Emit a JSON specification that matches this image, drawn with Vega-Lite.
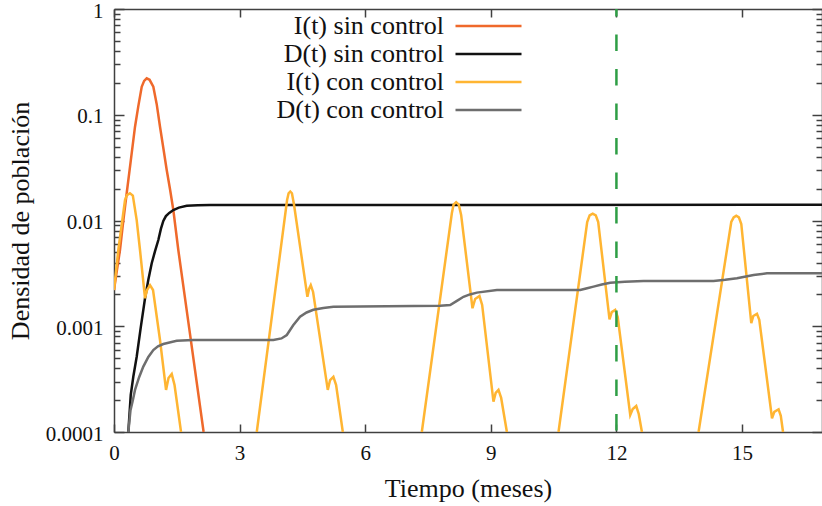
{
  "$schema": "https://vega.github.io/schema/vega-lite/v6.json",
  "width": 708,
  "height": 423,
  "autosize": {"type": "none"},
  "padding": {"left": 114, "top": 9, "right": 0, "bottom": 74},
  "background": "white",
  "config": {
    "view": {"stroke": null},
    "font": "Liberation Serif",
    "axis": {
      "grid": false,
      "domainColor": "#404040",
      "domainWidth": 1.5,
      "tickColor": "#404040",
      "tickWidth": 1.5,
      "labelFont": "Liberation Serif",
      "labelFontSize": 21,
      "labelColor": "#111111",
      "labelFlush": false,
      "labelOverlap": false,
      "titleFont": "Liberation Serif",
      "titleFontSize": 26,
      "titleFontWeight": "normal",
      "titleColor": "#111111"
    }
  },
  "datasets": {
    "curves": [
      {"series": "I(t) sin control", "seg": "a", "t": 0, "v": 0.0022},
      {"series": "I(t) sin control", "seg": "a", "t": 0.07, "v": 0.00339},
      {"series": "I(t) sin control", "seg": "a", "t": 0.143, "v": 0.00526},
      {"series": "I(t) sin control", "seg": "a", "t": 0.22, "v": 0.00977},
      {"series": "I(t) sin control", "seg": "a", "t": 0.303, "v": 0.0181},
      {"series": "I(t) sin control", "seg": "a", "t": 0.4, "v": 0.0366},
      {"series": "I(t) sin control", "seg": "a", "t": 0.502, "v": 0.0771},
      {"series": "I(t) sin control", "seg": "a", "t": 0.58, "v": 0.12},
      {"series": "I(t) sin control", "seg": "a", "t": 0.662, "v": 0.184},
      {"series": "I(t) sin control", "seg": "a", "t": 0.72, "v": 0.209},
      {"series": "I(t) sin control", "seg": "a", "t": 0.781, "v": 0.221},
      {"series": "I(t) sin control", "seg": "a", "t": 0.85, "v": 0.214},
      {"series": "I(t) sin control", "seg": "a", "t": 0.939, "v": 0.184},
      {"series": "I(t) sin control", "seg": "a", "t": 1.02, "v": 0.126},
      {"series": "I(t) sin control", "seg": "a", "t": 1.099, "v": 0.0771},
      {"series": "I(t) sin control", "seg": "a", "t": 1.18, "v": 0.0479},
      {"series": "I(t) sin control", "seg": "a", "t": 1.259, "v": 0.03},
      {"series": "I(t) sin control", "seg": "a", "t": 1.34, "v": 0.0195},
      {"series": "I(t) sin control", "seg": "a", "t": 1.417, "v": 0.01257},
      {"series": "I(t) sin control", "seg": "a", "t": 1.536, "v": 0.00526},
      {"series": "I(t) sin control", "seg": "a", "t": 1.8, "v": 0.000933},
      {"series": "I(t) sin control", "seg": "a", "t": 2.14, "v": 0.0001},

      {"series": "D(t) sin control", "seg": "b", "t": 0.342, "v": 0.0001},
      {"series": "D(t) sin control", "seg": "b", "t": 0.4, "v": 0.000224},
      {"series": "D(t) sin control", "seg": "b", "t": 0.461, "v": 0.000333},
      {"series": "D(t) sin control", "seg": "b", "t": 0.542, "v": 0.000515},
      {"series": "D(t) sin control", "seg": "b", "t": 0.64, "v": 0.00098},
      {"series": "D(t) sin control", "seg": "b", "t": 0.741, "v": 0.00184},
      {"series": "D(t) sin control", "seg": "b", "t": 0.82, "v": 0.00275},
      {"series": "D(t) sin control", "seg": "b", "t": 0.901, "v": 0.00394},
      {"series": "D(t) sin control", "seg": "b", "t": 0.98, "v": 0.00513},
      {"series": "D(t) sin control", "seg": "b", "t": 1.059, "v": 0.00654},
      {"series": "D(t) sin control", "seg": "b", "t": 1.12, "v": 0.00832},
      {"series": "D(t) sin control", "seg": "b", "t": 1.178, "v": 0.0099},
      {"series": "D(t) sin control", "seg": "b", "t": 1.24, "v": 0.0110},
      {"series": "D(t) sin control", "seg": "b", "t": 1.32, "v": 0.0118},
      {"series": "D(t) sin control", "seg": "b", "t": 1.417, "v": 0.01257},
      {"series": "D(t) sin control", "seg": "b", "t": 1.55, "v": 0.01324},
      {"series": "D(t) sin control", "seg": "b", "t": 1.737, "v": 0.0138},
      {"series": "D(t) sin control", "seg": "b", "t": 2.0, "v": 0.01396},
      {"series": "D(t) sin control", "seg": "b", "t": 2.294, "v": 0.014},
      {"series": "D(t) sin control", "seg": "b", "t": 16.91, "v": 0.0141},

      {"series": "I(t) con control", "seg": "y1", "t": 0, "v": 0.0022},
      {"series": "I(t) con control", "seg": "y1", "t": 0.103, "v": 0.00526},
      {"series": "I(t) con control", "seg": "y1", "t": 0.263, "v": 0.0156},
      {"series": "I(t) con control", "seg": "y1", "t": 0.31, "v": 0.0174},
      {"series": "I(t) con control", "seg": "y1", "t": 0.38, "v": 0.0181},
      {"series": "I(t) con control", "seg": "y1", "t": 0.45, "v": 0.0172},
      {"series": "I(t) con control", "seg": "y1", "t": 0.542, "v": 0.0101},
      {"series": "I(t) con control", "seg": "y1", "t": 0.621, "v": 0.00526},
      {"series": "I(t) con control", "seg": "y1", "t": 0.741, "v": 0.00184},
      {"series": "I(t) con control", "seg": "y1", "t": 0.789, "v": 0.0022},
      {"series": "I(t) con control", "seg": "y1", "t": 0.86, "v": 0.00245},
      {"series": "I(t) con control", "seg": "y1", "t": 0.932, "v": 0.0022},
      {"series": "I(t) con control", "seg": "y1", "t": 1.099, "v": 0.000741},
      {"series": "I(t) con control", "seg": "y1", "t": 1.243, "v": 0.00025},
      {"series": "I(t) con control", "seg": "y1", "t": 1.302, "v": 0.000324},
      {"series": "I(t) con control", "seg": "y1", "t": 1.379, "v": 0.000353},
      {"series": "I(t) con control", "seg": "y1", "t": 1.446, "v": 0.000278},
      {"series": "I(t) con control", "seg": "y1", "t": 1.601, "v": 0.0001},

      {"series": "I(t) con control", "seg": "y2", "t": 3.41, "v": 0.0001},
      {"series": "I(t) con control", "seg": "y2", "t": 4.134, "v": 0.0156},
      {"series": "I(t) con control", "seg": "y2", "t": 4.17, "v": 0.0181},
      {"series": "I(t) con control", "seg": "y2", "t": 4.21, "v": 0.0188},
      {"series": "I(t) con control", "seg": "y2", "t": 4.25, "v": 0.0181},
      {"series": "I(t) con control", "seg": "y2", "t": 4.301, "v": 0.014},
      {"series": "I(t) con control", "seg": "y2", "t": 4.619, "v": 0.0019},
      {"series": "I(t) con control", "seg": "y2", "t": 4.659, "v": 0.00225},
      {"series": "I(t) con control", "seg": "y2", "t": 4.7, "v": 0.00245},
      {"series": "I(t) con control", "seg": "y2", "t": 4.755, "v": 0.00211},
      {"series": "I(t) con control", "seg": "y2", "t": 5.106, "v": 0.00025},
      {"series": "I(t) con control", "seg": "y2", "t": 5.161, "v": 0.00031},
      {"series": "I(t) con control", "seg": "y2", "t": 5.24, "v": 0.000333},
      {"series": "I(t) con control", "seg": "y2", "t": 5.305, "v": 0.000278},
      {"series": "I(t) con control", "seg": "y2", "t": 5.465, "v": 0.0001},

      {"series": "I(t) con control", "seg": "y3", "t": 7.352, "v": 0.0001},
      {"series": "I(t) con control", "seg": "y3", "t": 8.069, "v": 0.0117},
      {"series": "I(t) con control", "seg": "y3", "t": 8.11, "v": 0.0141},
      {"series": "I(t) con control", "seg": "y3", "t": 8.172, "v": 0.0149},
      {"series": "I(t) con control", "seg": "y3", "t": 8.235, "v": 0.0141},
      {"series": "I(t) con control", "seg": "y3", "t": 8.291, "v": 0.0113},
      {"series": "I(t) con control", "seg": "y3", "t": 8.562, "v": 0.00148},
      {"series": "I(t) con control", "seg": "y3", "t": 8.626, "v": 0.00181},
      {"series": "I(t) con control", "seg": "y3", "t": 8.729, "v": 0.00193},
      {"series": "I(t) con control", "seg": "y3", "t": 8.793, "v": 0.00159},
      {"series": "I(t) con control", "seg": "y3", "t": 9.063, "v": 0.000194},
      {"series": "I(t) con control", "seg": "y3", "t": 9.116, "v": 0.000234},
      {"series": "I(t) con control", "seg": "y3", "t": 9.183, "v": 0.00025},
      {"series": "I(t) con control", "seg": "y3", "t": 9.247, "v": 0.00021},
      {"series": "I(t) con control", "seg": "y3", "t": 9.384, "v": 0.0001},

      {"series": "I(t) con control", "seg": "y4", "t": 10.617, "v": 0.0001},
      {"series": "I(t) con control", "seg": "y4", "t": 11.302, "v": 0.00968},
      {"series": "I(t) con control", "seg": "y4", "t": 11.36, "v": 0.0112},
      {"series": "I(t) con control", "seg": "y4", "t": 11.433, "v": 0.0116},
      {"series": "I(t) con control", "seg": "y4", "t": 11.507, "v": 0.0112},
      {"series": "I(t) con control", "seg": "y4", "t": 11.565, "v": 0.00968},
      {"series": "I(t) con control", "seg": "y4", "t": 11.835, "v": 0.00116},
      {"series": "I(t) con control", "seg": "y4", "t": 11.888, "v": 0.00136},
      {"series": "I(t) con control", "seg": "y4", "t": 11.971, "v": 0.00143},
      {"series": "I(t) con control", "seg": "y4", "t": 12.031, "v": 0.00122},
      {"series": "I(t) con control", "seg": "y4", "t": 12.33, "v": 0.000145},
      {"series": "I(t) con control", "seg": "y4", "t": 12.389, "v": 0.000165},
      {"series": "I(t) con control", "seg": "y4", "t": 12.473, "v": 0.000176},
      {"series": "I(t) con control", "seg": "y4", "t": 12.533, "v": 0.000148},
      {"series": "I(t) con control", "seg": "y4", "t": 12.609, "v": 0.0001},

      {"series": "I(t) con control", "seg": "y5", "t": 13.962, "v": 0.0001},
      {"series": "I(t) con control", "seg": "y5", "t": 14.743, "v": 0.00968},
      {"series": "I(t) con control", "seg": "y5", "t": 14.8, "v": 0.0107},
      {"series": "I(t) con control", "seg": "y5", "t": 14.862, "v": 0.0111},
      {"series": "I(t) con control", "seg": "y5", "t": 14.925, "v": 0.0107},
      {"series": "I(t) con control", "seg": "y5", "t": 14.982, "v": 0.00927},
      {"series": "I(t) con control", "seg": "y5", "t": 15.221, "v": 0.00107},
      {"series": "I(t) con control", "seg": "y5", "t": 15.269, "v": 0.00125},
      {"series": "I(t) con control", "seg": "y5", "t": 15.357, "v": 0.00131},
      {"series": "I(t) con control", "seg": "y5", "t": 15.412, "v": 0.00115},
      {"series": "I(t) con control", "seg": "y5", "t": 15.716, "v": 0.000135},
      {"series": "I(t) con control", "seg": "y5", "t": 15.771, "v": 0.000155},
      {"series": "I(t) con control", "seg": "y5", "t": 15.873, "v": 0.000164},
      {"series": "I(t) con control", "seg": "y5", "t": 15.926, "v": 0.000142},
      {"series": "I(t) con control", "seg": "y5", "t": 15.979, "v": 0.0001},

      {"series": "D(t) con control", "seg": "d", "t": 0.342, "v": 0.0001},
      {"series": "D(t) con control", "seg": "d", "t": 0.394, "v": 0.000161},
      {"series": "D(t) con control", "seg": "d", "t": 0.45, "v": 0.0002},
      {"series": "D(t) con control", "seg": "d", "t": 0.502, "v": 0.00025},
      {"series": "D(t) con control", "seg": "d", "t": 0.6, "v": 0.00033},
      {"series": "D(t) con control", "seg": "d", "t": 0.7, "v": 0.000415},
      {"series": "D(t) con control", "seg": "d", "t": 0.82, "v": 0.000513},
      {"series": "D(t) con control", "seg": "d", "t": 0.939, "v": 0.000596},
      {"series": "D(t) con control", "seg": "d", "t": 1.05, "v": 0.000646},
      {"series": "D(t) con control", "seg": "d", "t": 1.178, "v": 0.000679},
      {"series": "D(t) con control", "seg": "d", "t": 1.498, "v": 0.00073},
      {"series": "D(t) con control", "seg": "d", "t": 1.895, "v": 0.000741},
      {"series": "D(t) con control", "seg": "d", "t": 3.806, "v": 0.000741},
      {"series": "D(t) con control", "seg": "d", "t": 4.0, "v": 0.000767},
      {"series": "D(t) con control", "seg": "d", "t": 4.127, "v": 0.000826},
      {"series": "D(t) con control", "seg": "d", "t": 4.28, "v": 0.00102},
      {"series": "D(t) con control", "seg": "d", "t": 4.444, "v": 0.00123},
      {"series": "D(t) con control", "seg": "d", "t": 4.6, "v": 0.00135},
      {"series": "D(t) con control", "seg": "d", "t": 4.762, "v": 0.00143},
      {"series": "D(t) con control", "seg": "d", "t": 5.0, "v": 0.00149},
      {"series": "D(t) con control", "seg": "d", "t": 5.24, "v": 0.00153},
      {"series": "D(t) con control", "seg": "d", "t": 7.79, "v": 0.00156},
      {"series": "D(t) con control", "seg": "d", "t": 8.029, "v": 0.00159},
      {"series": "D(t) con control", "seg": "d", "t": 8.19, "v": 0.00174},
      {"series": "D(t) con control", "seg": "d", "t": 8.347, "v": 0.0019},
      {"series": "D(t) con control", "seg": "d", "t": 8.5, "v": 0.002},
      {"series": "D(t) con control", "seg": "d", "t": 8.667, "v": 0.00208},
      {"series": "D(t) con control", "seg": "d", "t": 9.145, "v": 0.0022},
      {"series": "D(t) con control", "seg": "d", "t": 11.135, "v": 0.0022},
      {"series": "D(t) con control", "seg": "d", "t": 11.3, "v": 0.00229},
      {"series": "D(t) con control", "seg": "d", "t": 11.453, "v": 0.00237},
      {"series": "D(t) con control", "seg": "d", "t": 11.65, "v": 0.00248},
      {"series": "D(t) con control", "seg": "d", "t": 11.852, "v": 0.00258},
      {"series": "D(t) con control", "seg": "d", "t": 12.2, "v": 0.00264},
      {"series": "D(t) con control", "seg": "d", "t": 12.648, "v": 0.00268},
      {"series": "D(t) con control", "seg": "d", "t": 14.32, "v": 0.00268},
      {"series": "D(t) con control", "seg": "d", "t": 14.6, "v": 0.00275},
      {"series": "D(t) con control", "seg": "d", "t": 14.879, "v": 0.00284},
      {"series": "D(t) con control", "seg": "d", "t": 15.276, "v": 0.00305},
      {"series": "D(t) con control", "seg": "d", "t": 15.596, "v": 0.00317},
      {"series": "D(t) con control", "seg": "d", "t": 16.91, "v": 0.00317}
    ]
  },
  "layer": [
    {
      "data": {"name": "curves"},
      "mark": {"type": "line", "strokeWidth": 2.5, "clip": true},
      "encoding": {
        "x": {
          "field": "t", "type": "quantitative",
          "scale": {"domain": [0, 16.91], "nice": false, "zero": false},
          "axis": {"orient": "bottom", "values": [0, 3, 6, 9, 12, 15], "format": "d", "tickSize": -8, "labelPadding": 18, "title": "Tiempo (meses)", "titlePadding": 12}
        },
        "y": {
          "field": "v", "type": "quantitative",
          "scale": {"type": "log", "domain": [0.0001, 1], "nice": false},
          "axis": {"orient": "left", "values": [0.0001, 0.001, 0.01, 0.1, 1], "format": "~g", "tickSize": -10, "labelPadding": 21, "labelOffset": 2, "title": "Densidad de población", "titlePadding": 12}
        },
        "color": {
          "field": "series", "type": "nominal",
          "scale": {
            "domain": ["I(t) sin control", "D(t) sin control", "I(t) con control", "D(t) con control"],
            "range": ["#EF692B", "#111111", "#FFB532", "#6E6E6E"]
          },
          "legend": {
            "orient": "none", "legendX": 361.5, "legendY": 4, "title": null,
            "symbolType": "M-6,0H6", "symbolSize": 121, "symbolStrokeWidth": 2.5,
            "labelAlign": "right", "labelOffset": -57.5,
            "labelFont": "Liberation Serif", "labelFontSize": 26, "labelColor": "#111111",
            "labelLimit": 400, "rowPadding": 2
          }
        },
        "detail": {"field": "seg"}
      }
    },
    {
      "data": {"name": "curves"},
      "mark": {"type": "point", "opacity": 0},
      "encoding": {
        "x": {"field": "t", "type": "quantitative", "scale": {"domain": [0, 16.91], "nice": false, "zero": false},
          "axis": {"orient": "top", "values": [0, 3, 6, 9, 12, 15], "labels": false, "tickSize": -8, "title": null}},
        "y": {"field": "v", "type": "quantitative", "scale": {"type": "log", "domain": [0.0001, 1], "nice": false},
          "axis": {"orient": "right", "values": [0.0001, 0.001, 0.01, 0.1, 1], "labels": false, "tickSize": -10, "title": null}}
      }
    },
    {
      "data": {"name": "curves"},
      "mark": {"type": "point", "opacity": 0},
      "encoding": {
        "x": {"field": "t", "type": "quantitative", "scale": {"domain": [0, 16.91], "nice": false, "zero": false}, "axis": null},
        "y": {"field": "v", "type": "quantitative", "scale": {"type": "log", "domain": [0.0001, 1], "nice": false},
          "axis": {"orient": "left", "values": [0.0002, 0.0003, 0.0004, 0.0005, 0.0006, 0.0007, 0.0008, 0.0009, 0.002, 0.003, 0.004, 0.005, 0.006, 0.007, 0.008, 0.009, 0.02, 0.03, 0.04, 0.05, 0.06, 0.07, 0.08, 0.09, 0.2, 0.3, 0.4, 0.5, 0.6, 0.7, 0.8, 0.9], "labels": false, "domain": false, "tickSize": -6, "title": null}}
      }
    },
    {
      "data": {"name": "curves"},
      "mark": {"type": "point", "opacity": 0},
      "encoding": {
        "x": {"field": "t", "type": "quantitative", "scale": {"domain": [0, 16.91], "nice": false, "zero": false}, "axis": null},
        "y": {"field": "v", "type": "quantitative", "scale": {"type": "log", "domain": [0.0001, 1], "nice": false},
          "axis": {"orient": "right", "values": [0.0002, 0.0003, 0.0004, 0.0005, 0.0006, 0.0007, 0.0008, 0.0009, 0.002, 0.003, 0.004, 0.005, 0.006, 0.007, 0.008, 0.009, 0.02, 0.03, 0.04, 0.05, 0.06, 0.07, 0.08, 0.09, 0.2, 0.3, 0.4, 0.5, 0.6, 0.7, 0.8, 0.9], "labels": false, "domain": false, "tickSize": -6, "title": null}}
      }
    },
    {
      "data": {"values": [{}]},
      "mark": {"type": "rule", "color": "#2E9E45", "strokeWidth": 2.5, "strokeDash": [16.5, 18], "strokeDashOffset": 9},
      "encoding": {
        "x": {"datum": 12, "type": "quantitative", "axis": null}
      }
    }
  ],
  "resolve": {"axis": {"x": "independent", "y": "independent"}}
}
